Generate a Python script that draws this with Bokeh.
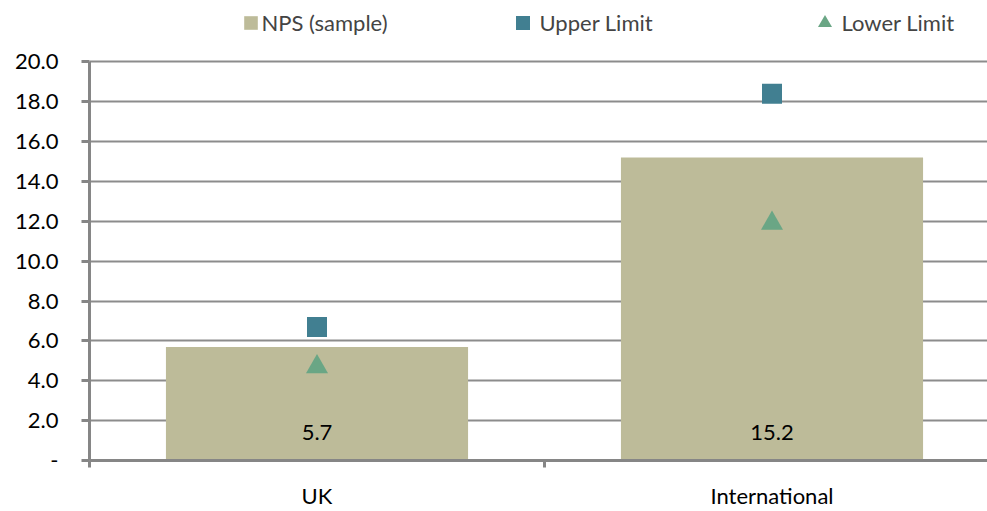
from bokeh.plotting import figure
from bokeh.models import (ColumnDataSource, Range1d, FixedTicker, Legend, LegendItem,
                          CustomJSTickFormatter, LabelSet)
from bokeh.core.properties import value
from bokeh.embed import file_html
from bokeh.resources import INLINE

categories = ["UK", "International"]
nps_sample = [5.7, 15.2]
upper_limit = [6.7, 18.4]
lower_limit = [4.7, 11.9]
y_ticks = [0, 2, 4, 6, 8, 10, 12, 14, 16, 18, 20]

FONT = "Lato"
FS = "22px"
BAR = "#BDBB99"
UPPER = "#417F91"
LOWER = "#6AA685"
GRID = "#8C8C8C"
AXIS = "#868686"

xs = [i + 0.5 for i in range(len(categories))]
src = ColumnDataSource(dict(x=xs, nps=nps_sample, up=upper_limit, lo=lower_limit,
                            lab=[f"{v:.1f}" for v in nps_sample]))

# frame spans the whole top of the figure so the legend can sit inside it;
# 20 units cover 403px, frame is 465px tall
p = figure(width=987, height=511, output_backend="svg", toolbar_location=None,
           x_range=Range1d(0, 898 / 455), y_range=Range1d(0, 20 * 465 / 403),
           min_border_left=89, min_border_right=0, min_border_top=0, min_border_bottom=46)
p.outline_line_color = None
p.background_fill_color = "white"
p.border_fill_color = "white"

bars = p.vbar(x="x", top="nps", width=0.664, source=src, fill_color=BAR, line_color=None)
ups = p.scatter(x="x", y="up", source=src, marker="square", size=20,
                fill_color=UPPER, line_color=None)
lows = p.scatter(x="x", y="lo", source=src, marker="triangle", size=22,
                 fill_color=LOWER, line_color=None)

labels = LabelSet(x="x", y=0, text="lab", source=src, text_align="center",
                  text_baseline="middle", y_offset=28, text_font=value(FONT),
                  text_font_size=value(FS), text_color="black")
p.add_layout(labels)

# axes
p.xgrid.visible = False
p.ygrid.ticker = FixedTicker(ticks=y_ticks)
p.ygrid.grid_line_color = GRID
p.ygrid.grid_line_width = 2

p.yaxis.ticker = FixedTicker(ticks=y_ticks)
p.yaxis.bounds = (0, 20)
p.yaxis.formatter = CustomJSTickFormatter(code="return tick == 0 ? '-' : tick.toFixed(1);")
p.yaxis.axis_line_color = AXIS
p.yaxis.axis_line_width = 3
p.yaxis.major_tick_line_color = AXIS
p.yaxis.major_tick_line_width = 3
p.yaxis.major_tick_out = 8
p.yaxis.major_tick_in = 0
p.yaxis.minor_tick_line_color = None
p.yaxis.major_label_text_font = FONT
p.yaxis.major_label_text_font_size = FS
p.yaxis.major_label_text_color = "black"
p.yaxis.major_label_standoff = 23

p.xaxis.ticker = FixedTicker(ticks=xs, minor_ticks=[0, 1, 2])
p.xaxis.major_label_overrides = {x: c for x, c in zip(xs, categories)}
p.xaxis.axis_line_color = AXIS
p.xaxis.axis_line_width = 3
p.xaxis.major_tick_line_color = None
p.xaxis.minor_tick_line_color = AXIS
p.xaxis.minor_tick_line_width = 3
p.xaxis.minor_tick_out = 7
p.xaxis.minor_tick_in = 0
p.xaxis.major_label_text_font = FONT
p.xaxis.major_label_text_font_size = FS
p.xaxis.major_label_text_color = "black"
p.xaxis.major_label_standoff = 14

# legend glyph box: scatter markers are drawn at 0.4 x box size -> 35px box gives 14px markers
GB = 35
legend_specs = [("NPS (sample)", bars, 250), ("Upper Limit", ups, 522), ("Lower Limit", lows, 824)]
for name, r, cx in legend_specs:
    if r is bars:
        gw, gh, so = 17, 17, 3
        lx = cx - 8.5 - 89
        ly = 424
        lh = 22
    else:
        gw, gh, so = GB, GB, 0
        lx = cx - GB / 2 - 89
        ly = 420
        lh = GB
    lg = Legend(items=[LegendItem(label=name, renderers=[r])], location=(lx, ly),
                border_line_color=None, background_fill_alpha=0,
                label_text_font=FONT, label_text_font_size=FS,
                glyph_width=gw, glyph_height=gh, label_standoff=so,
                padding=0, margin=0, label_height=lh)
    p.add_layout(lg, "center")

open("out.html", "w").write(file_html(p, INLINE))
